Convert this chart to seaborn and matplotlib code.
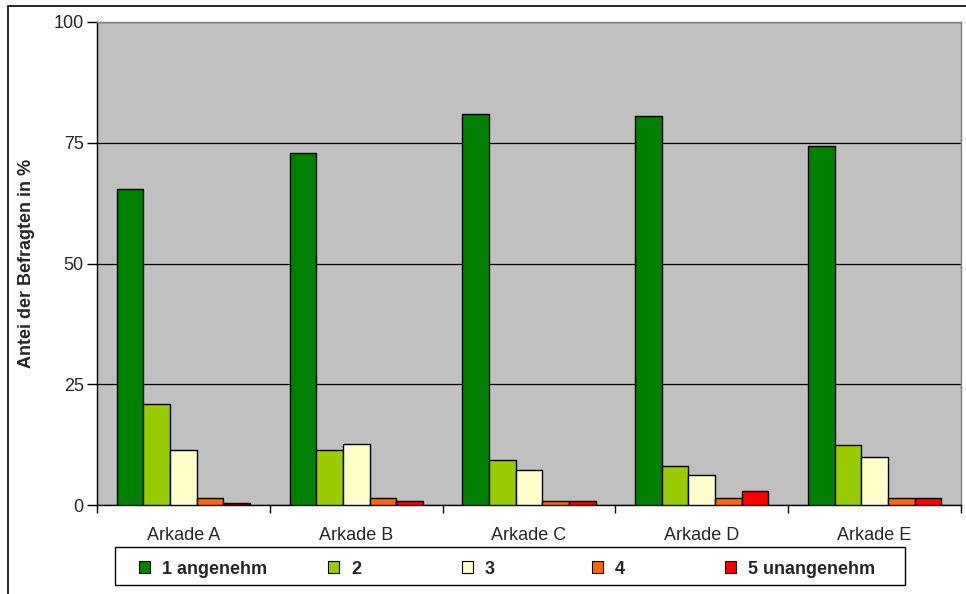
import pandas as pd
import numpy as np
import matplotlib
matplotlib.use("Agg")
import matplotlib.pyplot as plt
from matplotlib.patches import Rectangle, Patch
import seaborn as sns

sns.set_theme(style="white")
plt.rcParams['font.family'] = ['Liberation Sans', 'DejaVu Sans']

# Data
arkaden = ["Arkade A", "Arkade B", "Arkade C", "Arkade D", "Arkade E"]
ratings = ["1 angenehm", "2", "3", "4", "5 unangenehm"]
r1 = [65.4, 72.9, 80.9, 80.6, 74.4]
r2 = [20.9, 11.4, 9.4, 8.1, 12.4]
r3 = [11.4, 12.6, 7.3, 6.3, 9.9]
r4 = [1.5, 1.5, 0.9, 1.5, 1.5]
r5 = [0.5, 0.9, 0.9, 2.9, 1.4]
colors = ["#008000", "#99CC00", "#FFFFCC", "#FF6600", "#FF0000"]

df = pd.DataFrame({"arkade": arkaden * 5,
                   "rating": np.repeat(ratings, 5),
                   "value": r1 + r2 + r3 + r4 + r5})

fig = plt.figure(figsize=(9.66, 5.94), dpi=100)
ax = fig.add_axes([97 / 966, 89 / 594, 864 / 966, 483 / 594])
ax.set_facecolor("#C0C0C0")

sns.barplot(data=df, x="arkade", y="value", hue="rating",
            order=arkaden, hue_order=ratings, palette=colors,
            width=0.77, gap=0, edgecolor="black", linewidth=1,
            saturation=1, errorbar=None, ax=ax, zorder=3)

# the "5" bar of Arkade A is drawn in dark red in the original
for p in ax.patches:
    if p.get_facecolor()[:3] == matplotlib.colors.to_rgb("#FF0000") and p.get_x() < 0.5:
        p.set_facecolor("#800000")

ax.set_ylim(0, 100)
ax.set_xlim(-0.5, 4.5)
ax.set_yticks([0, 25, 50, 75, 100])
ax.yaxis.grid(True, color="black", linewidth=0.9, zorder=1)
ax.set_axisbelow(True)
ax.tick_params(axis="y", direction="out", length=7, width=1, color="black",
               labelsize=13, pad=2.5, left=True)
ax.set_xticks(range(5))
ax.set_xticklabels(arkaden)
ax.tick_params(axis="x", length=0, labelsize=13, pad=16)
ax.set_xticks(np.arange(-0.5, 5, 1), minor=True)
ax.tick_params(axis="x", which="minor", direction="out", length=6,
               width=1, color="black", bottom=True)
ax.set_xlabel("")
ax.set_ylabel("Antei der Befragten in %", fontsize=13, fontweight="bold", labelpad=13)

for side in ["left", "bottom"]:
    ax.spines[side].set_color("black")
    ax.spines[side].set_linewidth(1)
for side in ["top", "right"]:
    ax.spines[side].set_color("#808080")
    ax.spines[side].set_linewidth(1)

ax.get_legend().remove()

# legend: framed box with the five entries placed like the original
fig.patches.append(Rectangle((115 / 966, 9 / 594), 790 / 966, 38 / 594,
                             transform=fig.transFigure, facecolor="white",
                             edgecolor="black", linewidth=1, zorder=1))
entry_x = [139, 328, 462, 592, 725]
for label, color, x in zip(ratings, colors, entry_x):
    h = Patch(facecolor=color, edgecolor="black", linewidth=0.8)
    fig.legend([h], [label], loc="center left",
               bbox_to_anchor=(x / 966, 25 / 594), frameon=False,
               prop={"weight": "bold", "size": 13},
               handlelength=0.62, handleheight=0.62, handletextpad=0.65,
               borderpad=0, borderaxespad=0)

# outer chart border
fig.patches.append(Rectangle((8 / 966, -0.1), 1.2, 1.1 - 6 / 594,
                             transform=fig.transFigure, fill=False,
                             edgecolor="black", linewidth=1.2))

fig.savefig("out.png", dpi=100, facecolor="white")
